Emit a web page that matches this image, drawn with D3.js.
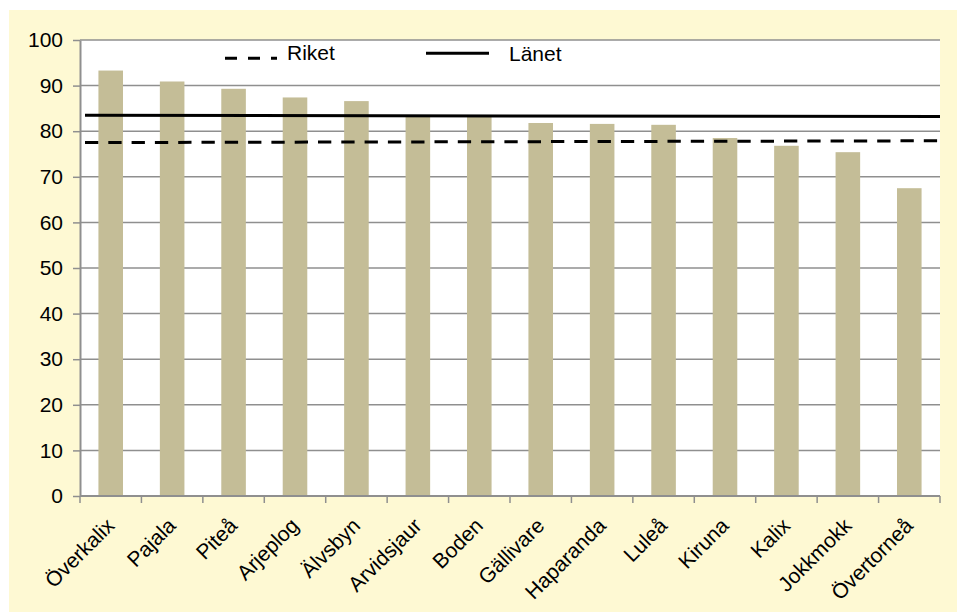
<!DOCTYPE html>
<html lang="sv">
<head>
<meta charset="UTF-8">
<title>Kommuner i Norrbotten</title>
<style>
  body { margin: 0; background: #fff; }
  svg { display: block; font-family: Arial, "Liberation Sans", sans-serif; }
</style>
</head>
<body>
<svg id="chart" width="957" height="612"></svg>
<script src="https://d3js.org/d3.v7.min.js"></script>
<script>
// data
const kommuner = ["Överkalix", "Pajala", "Piteå", "Arjeplog", "Älvsbyn", "Arvidsjaur", "Boden",
  "Gällivare", "Haparanda", "Luleå", "Kiruna", "Kalix", "Jokkmokk", "Övertorneå"];
const andel = [93.3, 90.9, 89.3, 87.4, 86.6, 83.5, 83.3, 81.8, 81.6, 81.4, 78.5, 76.8, 75.4, 67.5];
// reference lines, value at left end and right end
const riket = [77.5, 77.9];
const lanet = [83.5, 83.2];
const yTicks = [0, 10, 20, 30, 40, 50, 60, 70, 80, 90, 100];

const fs = 21;
const svg = d3.select("#chart");
const plot = { left: 80, right: 940, top: 40, bottom: 496 };

// yellow panel + white plot area
svg.append("rect").attr("x", 9).attr("y", 10).attr("width", 948).attr("height", 602).attr("fill", "#fef9d3");
svg.append("rect").attr("x", plot.left).attr("y", plot.top)
  .attr("width", plot.right - plot.left).attr("height", plot.bottom - plot.top).attr("fill", "#fff");

const x = d3.scaleBand().domain(kommuner).range([plot.left, plot.right])
  .paddingInner(0.6).paddingOuter(0.3);
const y = d3.scaleLinear().domain([0, 100]).range([plot.bottom, plot.top]);
const xl = d3.scaleLinear().domain([0, 1]).range([plot.left + 5, plot.right]);

// gridlines
svg.append("g").selectAll("line").data(yTicks).join("line")
  .attr("x1", plot.left).attr("x2", plot.right)
  .attr("y1", d => y(d)).attr("y2", d => y(d))
  .attr("stroke", "#8f8f8f").attr("stroke-width", 1.5);

// bars
svg.append("g").selectAll("rect").data(andel).join("rect")
  .attr("x", (d, i) => x(kommuner[i]))
  .attr("y", d => y(d))
  .attr("width", x.bandwidth())
  .attr("height", d => y(0) - y(d))
  .attr("fill", "#c4bd97");

// y axis
const yAxis = svg.append("g").attr("transform", `translate(${plot.left},0)`)
  .call(d3.axisLeft(y).tickValues(yTicks).tickSize(7).tickPadding(10).tickSizeOuter(0));
yAxis.select(".domain").attr("stroke", "#8f8f8f").attr("stroke-width", 2);
yAxis.selectAll(".tick line").attr("stroke", "#8f8f8f").attr("stroke-width", 1.5);
yAxis.selectAll(".tick text").attr("font-size", fs).attr("fill", "#000")
  .attr("font-family", "Arial, 'Liberation Sans', sans-serif");

// x axis line + ticks at category boundaries
const bounds = d3.range(kommuner.length + 1).map(i => plot.left + i * x.step());
svg.append("line").attr("x1", plot.left).attr("x2", plot.right)
  .attr("y1", y(0)).attr("y2", y(0)).attr("stroke", "#8f8f8f").attr("stroke-width", 2);
svg.append("g").selectAll("line").data(bounds).join("line")
  .attr("x1", d => d).attr("x2", d => d)
  .attr("y1", y(0)).attr("y2", y(0) + 7)
  .attr("stroke", "#8f8f8f").attr("stroke-width", 1.5);

svg.append("g").selectAll("text").data(kommuner).join("text")
  .attr("transform", d => `translate(${x(d) + x.bandwidth() / 2 + 5},527) rotate(-45)`)
  .attr("text-anchor", "end")
  .attr("font-size", fs)
  .text(d => d);

// reference lines
const line = d3.line().x((d, i) => xl(i)).y(d => y(d));
svg.append("path").datum(lanet).attr("d", line)
  .attr("fill", "none").attr("stroke", "#000").attr("stroke-width", 3);
svg.append("path").datum(riket).attr("d", line)
  .attr("fill", "none").attr("stroke", "#000").attr("stroke-width", 3)
  .attr("stroke-dasharray", "13.3,10");

// legend
svg.append("line").attr("x1", 225).attr("x2", 277).attr("y1", 58.3).attr("y2", 58.3)
  .attr("stroke", "#000").attr("stroke-width", 3).attr("stroke-dasharray", "12,11");
svg.append("text").attr("x", 287).attr("y", 59.5).attr("font-size", fs).text("Riket");
svg.append("line").attr("x1", 426).attr("x2", 489).attr("y1", 53.3).attr("y2", 53.3)
  .attr("stroke", "#000").attr("stroke-width", 3);
svg.append("text").attr("x", 509).attr("y", 61).attr("font-size", fs).text("Länet");
</script>
</body>
</html>
